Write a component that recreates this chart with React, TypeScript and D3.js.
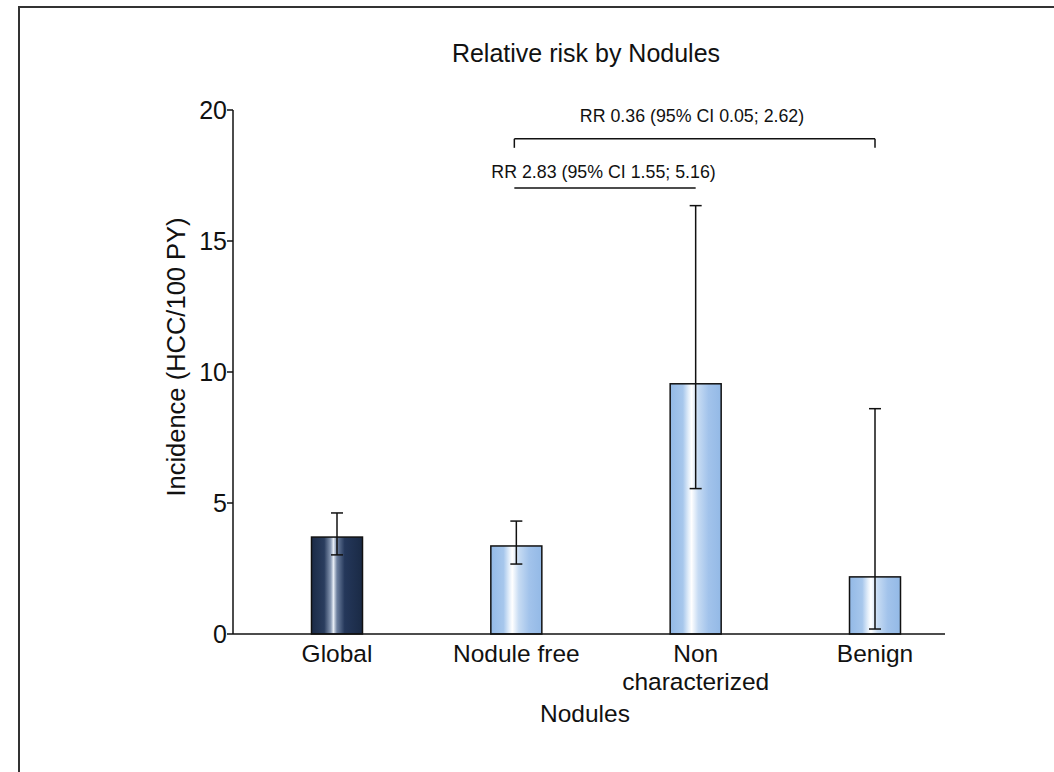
import React from "react";
import * as d3 from "d3";

const categories = ["Global", "Nodule free", "Non characterized", "Benign"];
const categoryLines = [["Global"], ["Nodule free"], ["Non", "characterized"], ["Benign"]];
const values = [3.7, 3.36, 9.55, 2.18];
const upper = [4.62, 4.31, 16.35, 8.6];
const lower = [3.02, 2.67, 5.55, 0.19];
const yTicks = [0, 5, 10, 15, 20];
const comparisons = [
  { from: 1, to: 3, label: "RR 0.36 (95% CI 0.05; 2.62)", level: 18.9, bracket: true },
  { from: 1, to: 2, label: "RR 2.83 (95% CI 1.55; 5.16)", level: 17.02, bracket: false },
];

const W = 1054;
const H = 772;
const axisLeft = 233;
const axisRight = 945;
const y0 = 634;
const y1 = 110;

export default function App() {
  const y = d3.scaleLinear().domain([0, 20]).range([y0, y1]);
  const x = d3.scalePoint<string>().domain(categories).range([337, 875]);
  const barW = 51;
  const cap = 12;
  const font = "Liberation Sans, Arial, Helvetica, sans-serif";

  return (
    <svg width={W} height={H} style={{ position: "absolute", left: 0, top: 0, background: "#fff" }} fontFamily={font}>
      <defs>
        <linearGradient id="gDark" x1="0" x2="1" y1="0" y2="0">
          <stop offset="0" stopColor="#1b2b47" />
          <stop offset="0.25" stopColor="#2a3d5e" />
          <stop offset="0.38" stopColor="#8a9bb5" />
          <stop offset="0.43" stopColor="#e8eef6" />
          <stop offset="0.5" stopColor="#6c7f9e" />
          <stop offset="0.65" stopColor="#24375a" />
          <stop offset="1" stopColor="#1a2a45" />
        </linearGradient>
        <linearGradient id="gLight" x1="0" x2="1" y1="0" y2="0">
          <stop offset="0" stopColor="#93b9e6" />
          <stop offset="0.25" stopColor="#a7c7ec" />
          <stop offset="0.36" stopColor="#e3eefa" />
          <stop offset="0.42" stopColor="#ffffff" />
          <stop offset="0.55" stopColor="#c6dbf3" />
          <stop offset="0.75" stopColor="#a2c3eb" />
          <stop offset="1" stopColor="#93b9e6" />
        </linearGradient>
      </defs>

      {/* frame */}
      <line x1={19} y1={7} x2={W} y2={7} stroke="#333" strokeWidth={2} />
      <line x1={19} y1={6} x2={19} y2={H} stroke="#333" strokeWidth={2} />

      {/* title */}
      <text x={586} y={62} textAnchor="middle" fontSize={25} fill="#111">
        Relative risk by Nodules
      </text>

      {/* bars */}
      {categories.map((c, i) => {
        const cx = x(c) as number;
        return (
          <g key={c}>
            <rect
              x={cx - barW / 2}
              y={y(values[i])}
              width={barW}
              height={y(0) - y(values[i])}
              fill={i === 0 ? "url(#gDark)" : "url(#gLight)"}
              stroke="#111"
              strokeWidth={1.5}
            />
            <line x1={cx} x2={cx} y1={y(upper[i])} y2={y(lower[i])} stroke="#111" strokeWidth={1.5} />
            <line x1={cx - cap / 2} x2={cx + cap / 2} y1={y(upper[i])} y2={y(upper[i])} stroke="#111" strokeWidth={1.5} />
            <line x1={cx - cap / 2} x2={cx + cap / 2} y1={y(lower[i])} y2={y(lower[i])} stroke="#111" strokeWidth={1.5} />
          </g>
        );
      })}

      {/* axes */}
      <line x1={axisLeft} x2={axisLeft} y1={y(20)} y2={y(0)} stroke="#111" strokeWidth={1.5} />
      <line x1={axisLeft} x2={axisRight} y1={y(0)} y2={y(0)} stroke="#111" strokeWidth={1.5} />
      {yTicks.map((t) => (
        <g key={t}>
          <line x1={axisLeft - 6} x2={axisLeft} y1={y(t)} y2={y(t)} stroke="#111" strokeWidth={1.5} />
          <text x={axisLeft - 6} y={y(t)} dy="0.35em" textAnchor="end" fontSize={25} fill="#111">
            {t}
          </text>
        </g>
      ))}

      {/* x tick labels */}
      {categories.map((c, i) => (
        <text key={c} x={x(c) as number} y={662} textAnchor="middle" fontSize={24.5} fill="#111">
          {categoryLines[i].map((l, j) => (
            <tspan key={j} x={x(c) as number} dy={j === 0 ? 0 : 28}>
              {l}
            </tspan>
          ))}
        </text>
      ))}

      {/* axis titles */}
      <text x={585} y={722} textAnchor="middle" fontSize={24.5} fill="#111">
        Nodules
      </text>
      <text
        transform={`translate(185, ${357}) rotate(-90)`}
        textAnchor="middle"
        fontSize={25.5}
        fill="#111"
      >
        Incidence (HCC/100 PY)
      </text>

      {/* comparison brackets */}
      {comparisons.map((cmp, k) => {
        const xa = (x(categories[cmp.from]) as number) - 2;
        const xb = x(categories[cmp.to]) as number;
        const ly = y(cmp.level);
        return (
          <g key={k}>
            <line x1={xa} x2={xb} y1={ly} y2={ly} stroke="#111" strokeWidth={1.5} />
            {cmp.bracket && (
              <>
                <line x1={xa} x2={xa} y1={ly} y2={ly + 9} stroke="#111" strokeWidth={1.5} />
                <line x1={xb} x2={xb} y1={ly} y2={ly + 9} stroke="#111" strokeWidth={1.5} />
              </>
            )}
            <text
              x={cmp.bracket ? 692 : xa - 23}
              y={ly - (cmp.bracket ? 17 : 10)}
              textAnchor={cmp.bracket ? "middle" : "start"}
              fontSize={17.8}
              fill="#111"
            >
              {cmp.label}
            </text>
          </g>
        );
      })}
    </svg>
  );
}
